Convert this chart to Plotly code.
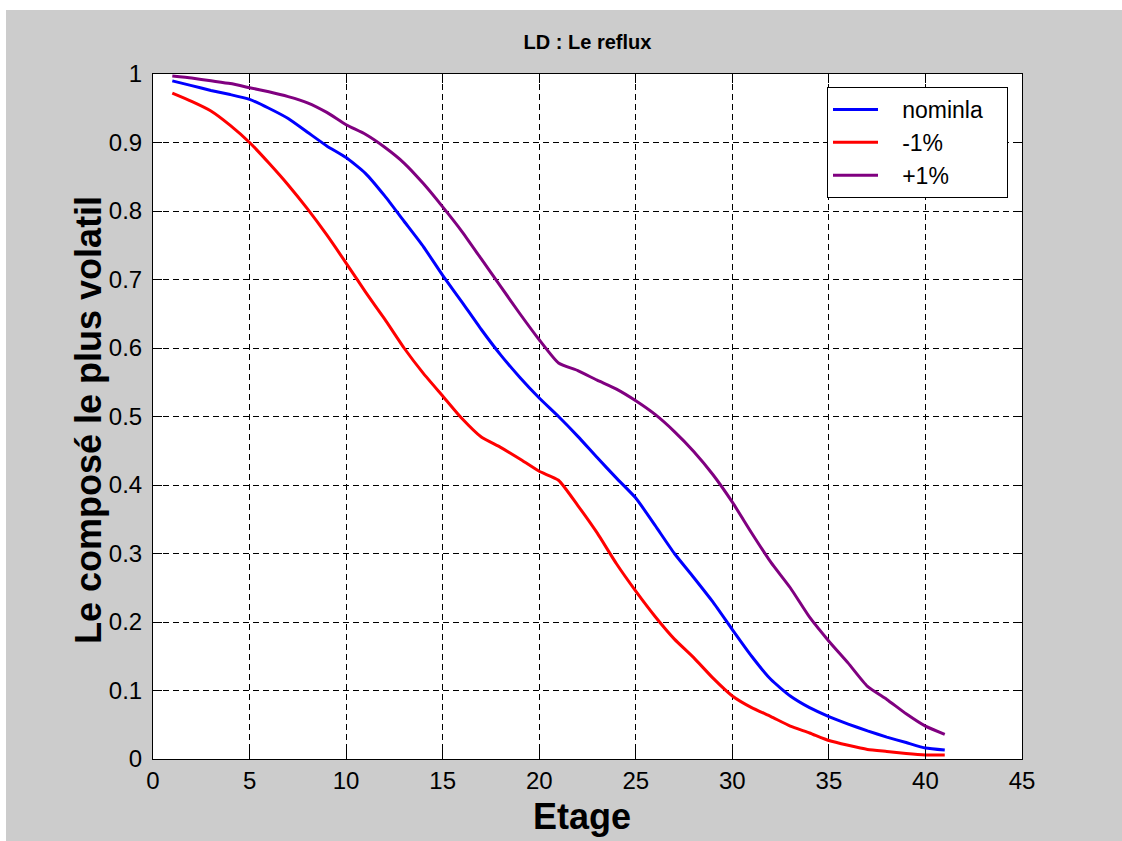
import plotly.graph_objects as go

stages = list(range(1, 42))

nominal = [0.990, 0.983, 0.976, 0.970, 0.963, 0.950, 0.935, 0.915, 0.895, 0.878,
           0.855, 0.822, 0.785, 0.748, 0.706, 0.667, 0.627, 0.590, 0.557, 0.527,
           0.500, 0.471, 0.440, 0.410, 0.381, 0.341, 0.300, 0.265, 0.229, 0.189,
           0.150, 0.116, 0.092, 0.075, 0.062, 0.051, 0.041, 0.032, 0.024, 0.016,
           0.013]

minus1 = [0.972, 0.960, 0.946, 0.925, 0.900, 0.870, 0.838, 0.803, 0.765, 0.724,
          0.682, 0.642, 0.600, 0.563, 0.530, 0.497, 0.470, 0.455, 0.438, 0.420,
          0.407, 0.370, 0.330, 0.285, 0.245, 0.208, 0.175, 0.148, 0.118, 0.092,
          0.075, 0.062, 0.048, 0.038, 0.027, 0.020, 0.014, 0.011, 0.008, 0.006,
          0.006]

plus1 = [0.997, 0.994, 0.990, 0.986, 0.980, 0.974, 0.967, 0.958, 0.944, 0.926,
         0.912, 0.893, 0.870, 0.840, 0.806, 0.770, 0.730, 0.690, 0.650, 0.612,
         0.578, 0.567, 0.553, 0.540, 0.523, 0.503, 0.478, 0.449, 0.415, 0.375,
         0.330, 0.287, 0.250, 0.207, 0.172, 0.140, 0.106, 0.087, 0.066, 0.048,
         0.036]

series_names = ["nominla", "-1%", "+1%"]
series_colors = ["#0000ff", "#ff0000", "#800080"]
series_values = [nominal, minus1, plus1]

x_ticks = [0, 5, 10, 15, 20, 25, 30, 35, 40, 45]
y_ticks = [0, 0.1, 0.2, 0.3, 0.4, 0.5, 0.6, 0.7, 0.8, 0.9, 1]
y_tick_text = ["0", "0.1", "0.2", "0.3", "0.4", "0.5", "0.6", "0.7", "0.8", "0.9", "1"]

FONT = "Liberation Sans, Arial, sans-serif"
NB = "\u00a0"

fig = go.Figure()
for name, color, vals in zip(series_names, series_colors, series_values):
    fig.add_trace(go.Scatter(x=stages, y=vals, mode="lines",
                             name=NB * 3 + name + NB * 3,
                             line=dict(color=color, width=3, shape="spline", smoothing=0.5)))

W, H = 1122, 841
L, R, T, B = 153, 100, 74, 82
pw, ph = W - L - R, H - T - B

def px_to_paper_x(px):
    return (px - L) / pw

def px_to_paper_y(py):
    return (H - B - py) / ph

axis_common = dict(
    showline=True, linecolor="black", linewidth=1, mirror="ticks",
    ticks="inside", ticklen=9, tickcolor="black", tickwidth=1,
    showgrid=True, gridcolor="black", gridwidth=1, griddash="6px,4px",
    zeroline=False,
    tickfont=dict(family=FONT, size=24, color="black"),
)

fig.update_layout(
    width=W, height=H,
    margin=dict(l=L, r=R, t=T, b=B, pad=0),
    paper_bgcolor="#cccccc",
    plot_bgcolor="white",
    title=dict(text="<b>LD : Le reflux</b>", x=0.5, xref="paper", xanchor="center",
               y=1 - 42 / H, yref="container", yanchor="middle",
               font=dict(family=FONT, size=20, color="black")),
    xaxis=dict(range=[0, 45], tickvals=x_ticks, ticktext=[str(v) for v in x_ticks],
               ticklabelstandoff=0, **axis_common),
    yaxis=dict(range=[0, 1], tickvals=y_ticks, ticktext=y_tick_text,
               ticklabelstandoff=5, **axis_common),
    legend=dict(x=px_to_paper_x(1008), y=px_to_paper_y(87), xanchor="right", yanchor="top",
                bgcolor="white", bordercolor="black", borderwidth=1,
                font=dict(family=FONT, size=23, color="black"),
                tracegroupgap=0, itemwidth=45),
    showlegend=True,
    annotations=[
        dict(text="<b>Etage</b>", xref="paper", yref="paper",
             x=px_to_paper_x(582), y=px_to_paper_y(816), xanchor="center", yanchor="middle",
             showarrow=False, font=dict(family=FONT, size=36, color="black")),
        dict(text="<b>Le composé le plus volatil</b>", xref="paper", yref="paper",
             x=px_to_paper_x(88), y=px_to_paper_y(420), xanchor="center", yanchor="middle",
             textangle=-90, showarrow=False, font=dict(family=FONT, size=36, color="black")),
    ],
    shapes=[
        dict(type="rect", xref="paper", yref="paper", layer="below",
             x0=px_to_paper_x(0), x1=px_to_paper_x(W), y0=px_to_paper_y(10), y1=px_to_paper_y(0),
             fillcolor="white", line=dict(width=0)),
        dict(type="rect", xref="paper", yref="paper", layer="below",
             x0=px_to_paper_x(0), x1=px_to_paper_x(6), y0=px_to_paper_y(H), y1=px_to_paper_y(0),
             fillcolor="white", line=dict(width=0)),
    ],
)

fig.write_html("out.html")
